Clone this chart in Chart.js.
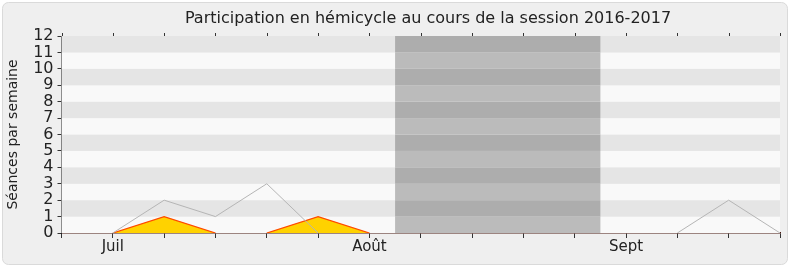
<!DOCTYPE html>
<html>
<head>
<meta charset="utf-8">
<script src="https://cdn.jsdelivr.net/npm/chart.js@4.4.1/dist/chart.umd.min.js"></script>
<style>
  html, body { margin: 0; padding: 0; background: #fff; }
  #wrap { width: 790px; height: 267px; }
</style>
</head>
<body>
<div id="wrap"><canvas id="chart" width="790" height="267"></canvas></div>
<script>
// semaines (index), libellés des mois
const semaines = [0, 1, 2, 3, 4, 5, 6, 7, 8, 9, 10, 11, 12, 13, 14];
const tickLabels = ['', 'Juil', '', '', '', '', 'Août', '', '', '', '', 'Sept', '', '', ''];
// séances de la semaine (gris) et présences en hémicycle (jaune)
const seances = [0, 0, 2, 1, 3, 0, 0, 0, 0, 0, 0, 0, 0, 2, 0];
const hemicycle = [null, 0, 1, 0, 0, 1, 0, null, null, null, null, null, null, null, null];
// vacances parlementaires (début, fin) en semaines
const vacances = [[6.5, 10.5]];
const titre = 'Participation en hémicycle au cours de la session 2016-2017';

const FONT = 'DejaVu Sans';

const backgroundPlugin = {
    id: 'fond',
    beforeDraw(chart) {
        const ctx = chart.ctx;
        ctx.save();
        ctx.fillStyle = '#fff';
        ctx.fillRect(0, 0, chart.width, chart.height);
        ctx.beginPath();
        ctx.roundRect(2.5, 2.5, chart.width - 5, chart.height - 5, 6);
        ctx.fillStyle = '#efefef';
        ctx.fill();
        ctx.strokeStyle = '#dadada';
        ctx.lineWidth = 1;
        ctx.stroke();

        // titre
        ctx.fillStyle = '#222';
        ctx.font = '16px "' + FONT + '"';
        ctx.textAlign = 'center';
        ctx.textBaseline = 'middle';
        ctx.fillText(titre, 428, 19);
        ctx.restore();
    },
    beforeDatasetsDraw(chart) {
        const ctx = chart.ctx;
        const area = chart.chartArea;
        const x = chart.scales.x;
        const y = chart.scales.y;
        ctx.save();
        // bandes alternées
        for (let v = 0; v < 12; v++) {
            const top = y.getPixelForValue(v + 1);
            const bottom = y.getPixelForValue(v);
            ctx.fillStyle = (v % 2 === 1) ? '#e5e5e5' : '#f9f9f9';
            ctx.fillRect(area.left, top, area.right - area.left, bottom - top);
        }
        // vacances
        vacances.forEach(([a, b]) => {
            const xa = x.getPixelForValue(a);
            const xb = x.getPixelForValue(b);
            for (let v = 0; v < 12; v++) {
                const top = y.getPixelForValue(v + 1);
                const bottom = y.getPixelForValue(v);
                ctx.fillStyle = (v % 2 === 1) ? '#adadad' : '#bbbbbb';
                ctx.fillRect(xa, top, xb - xa, bottom - top);
            }
        });
        ctx.restore();
    },
    afterDraw(chart) {
        // petites graduations au-dessus du graphique
        const ctx = chart.ctx;
        const x = chart.scales.x;
        const top = chart.chartArea.top;
        ctx.save();
        ctx.strokeStyle = '#333';
        ctx.lineWidth = 1;
        semaines.forEach(s => {
            const px = Math.round(x.getPixelForValue(s)) + 0.5;
            ctx.beginPath();
            ctx.moveTo(px, top - 3);
            ctx.lineTo(px, top);
            ctx.stroke();
        });
        ctx.restore();
    }
};

// pas de trait sur les segments à zéro (masqués par l'axe dans l'original)
const zeroSegment = (c) => (c.p0.parsed.y === 0 && c.p1.parsed.y === 0) ? 'rgba(0,0,0,0)' : undefined;

const ctx = document.getElementById('chart').getContext('2d');
new Chart(ctx, {
    type: 'line',
    data: {
        datasets: [
            {
                label: 'Séances',
                data: seances.map((v, i) => ({ x: semaines[i], y: v })),
                borderColor: '#b5b5b5',
                borderWidth: 1,
                fill: false,
                pointRadius: 0,
                tension: 0,
                order: 1,
                segment: { borderColor: zeroSegment }
            },
            {
                label: 'Hémicycle',
                data: hemicycle.map((v, i) => ({ x: semaines[i], y: v })),
                borderColor: '#ff4a00',
                backgroundColor: '#ffd200',
                borderWidth: 1.3,
                fill: 'origin',
                pointRadius: 0,
                tension: 0,
                order: 2,
                segment: { borderColor: zeroSegment }
            }
        ]
    },
    plugins: [backgroundPlugin],
    options: {
        responsive: false,
        animation: false,
        layout: { padding: { top: 36, right: 10, left: 0, bottom: 0 } },
        plugins: {
            legend: { display: false },
            tooltip: { enabled: false },
            title: { display: false }
        },
        scales: {
            x: {
                type: 'linear',
                min: 0,
                max: 14,
                z: 1,
                afterFit(scale) { scale.height = 34; },
                ticks: {
                    stepSize: 1,
                    autoSkip: false,
                    maxRotation: 0,
                    padding: 0,
                    color: '#222',
                    font: { family: FONT, size: 15 },
                    callback: (v) => tickLabels[v]
                },
                grid: { drawOnChartArea: false, tickLength: 5, color: '#333' },
                border: { color: '#4a1a12', width: 1.5 }
            },
            y: {
                min: 0,
                max: 12,
                afterFit(scale) { scale.width = 61.5; },
                ticks: {
                    stepSize: 1,
                    autoSkip: false,
                    padding: 4,
                    color: '#222',
                    font: { family: FONT, size: 16 }
                },
                grid: { drawOnChartArea: false, tickLength: 4, color: '#333' },
                border: { color: '#222', width: 1 },
                title: {
                    display: true,
                    text: 'Séances par semaine',
                    color: '#222',
                    font: { family: FONT, size: 14 },
                    padding: { top: 5, bottom: 0 }
                }
            }
        }
    }
});
</script>
</body>
</html>
